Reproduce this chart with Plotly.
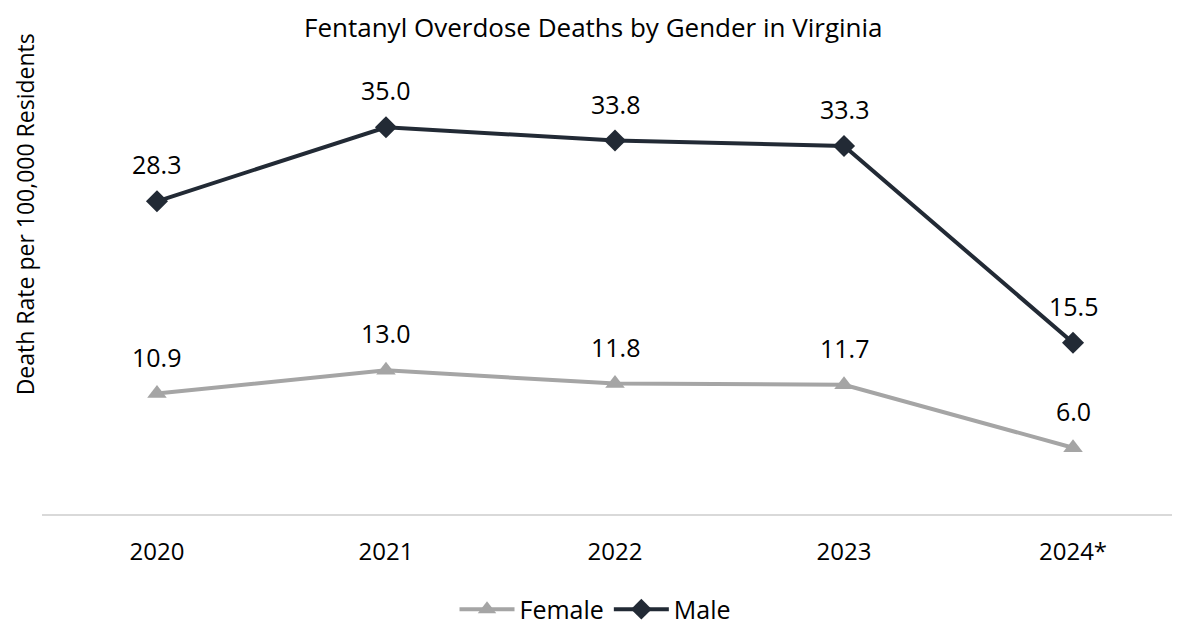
import plotly.graph_objects as go

years = ["2020", "2021", "2022", "2023", "2024*"]
female = [10.9, 13.0, 11.8, 11.7, 6.0]
male = [28.3, 35.0, 33.8, 33.3, 15.5]

FONT = "Open Sans"
MALE_C = "#222a35"
FEM_C = "#a5a5a5"
xs = list(range(len(years)))

fig = go.Figure()
fig.add_trace(go.Scatter(
    x=xs, y=female, name="Female", mode="lines+markers",
    line=dict(color=FEM_C, width=4),
    marker=dict(symbol="triangle-up", size=17, color=FEM_C),
))
fig.add_trace(go.Scatter(
    x=xs, y=male, name="Male", mode="lines+markers",
    line=dict(color=MALE_C, width=4),
    marker=dict(symbol="diamond", size=17, color=MALE_C),
))

annotations = []
for series in (female, male):
    for xi, v in zip(xs, series):
        annotations.append(dict(
            x=xi, y=v, xref="x", yref="y", text=f"{v:.1f}", showarrow=False,
            yshift=37, font=dict(family=FONT, size=25, color="#000000"),
        ))
annotations.append(dict(
    text="Death Rate per 100,000 Residents", xref="paper", yref="paper",
    x=0, y=0.678, xshift=-17, xanchor="center", yanchor="middle", textangle=-90,
    showarrow=False, font=dict(family=FONT, size=23, color="#000000"),
))

fig.update_layout(
    width=1180, height=626,
    margin=dict(l=34, r=0, t=64, b=120),
    paper_bgcolor="white", plot_bgcolor="white",
    title=dict(text="Fentanyl Overdose Deaths by Gender in Virginia",
               x=0.496, xref="container", xanchor="center",
               y=0.968, yanchor="middle",
               font=dict(family=FONT, size=26, color="#000000")),
    xaxis=dict(range=[-0.502, 4.502], tickvals=xs, ticktext=years,
               showgrid=False, zeroline=False, showline=True,
               linecolor="#d9d9d9", linewidth=2,
               ticks="outside", ticklen=15, tickcolor="rgba(0,0,0,0)",
               tickfont=dict(family=FONT, size=24, color="#000000")),
    yaxis=dict(range=[0, 40], showgrid=False, zeroline=False,
               showticklabels=False, showline=False),
    legend=dict(orientation="h", x=0.483, xanchor="center", y=-0.216,
                yanchor="middle", font=dict(family=FONT, size=25, color="#000000"),
                itemwidth=55),
    annotations=annotations,
    showlegend=True,
)

fig.write_html("out.html")
